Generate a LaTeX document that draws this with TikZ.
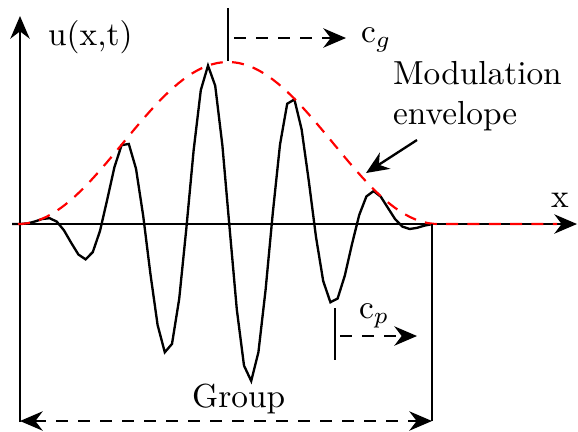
\documentclass[tikz,border=0pt]{standalone}
\usetikzlibrary{arrows.meta}
\begin{document}
\begin{tikzpicture}[x=0.3pt,y=-0.3pt,line width=0.7pt,
  tipa/.style={-{Stealth[length=6.8pt,width=5.8pt,inset=2.2pt]}},
  tipb/.style={{Stealth[length=6.8pt,width=5.8pt,inset=2.2pt]}-{Stealth[length=6.8pt,width=5.8pt,inset=2.2pt]}},
  dsh/.style={dash pattern=on 3.5pt off 3.1pt},
  rdsh/.style={red,line width=0.65pt,dash pattern=on 3.6pt off 2.8pt},
  lbl/.style={inner sep=0pt,anchor=base west}]
\useasboundingbox (0,0) rectangle (578,431);
% coordinates
\coordinate (yb) at (20,422);
\coordinate (yt) at (20,16);
\coordinate (xl) at (12,224);
\coordinate (xr) at (577,224);
\coordinate (gt) at (228,8);
\coordinate (gb) at (228,61);
\coordinate (ga) at (234,38);
\coordinate (gz) at (346,38);
\coordinate (pt) at (335,308);
\coordinate (pb) at (335,360);
\coordinate (pa) at (340,336);
\coordinate (pz) at (417,336);
\coordinate (rt) at (432,224);
\coordinate (rb) at (432,421);
\coordinate (bl) at (20,421);
\coordinate (br) at (432,421);
\coordinate (ms) at (417,140);
\coordinate (me) at (366,173);
\coordinate (es) at (438,224);
\coordinate (ee) at (557,224);
% axes
\draw[tipa] (yb) -- (yt);
\draw[tipa] (xl) -- (xr);
% wave
\draw (xl) -- (20.8,224) -- plot[domain=20.8:431.2,samples=58]
  (\x,{224-81*(1+cos(0.857143*(\x-228)))*cos(4.235294*(\x-208))});
% envelope
\draw[rdsh] plot[domain=18:438,samples=90]
  (\x,{224-81*(1+cos(0.857143*(\x-228)))}) -- (es) -- (ee);
% group velocity
\draw (gt) -- (gb);
\draw[tipa,dsh] (ga) -- (gz);
\node[lbl] (cg) at (360,42) {c$_g$};
% phase velocity
\draw (pt) -- (pb);
\draw[tipa,dsh] (pa) -- (pz);
\node[lbl] (cp) at (358,318) {c$_p$};
% group extent
\draw (rt) -- (rb);
\draw[tipb,dsh] (bl) -- (br);
\node[lbl] (grp) at (191,407) {Group};
% labels
\node[lbl] (u) at (47,45) {u(x,t)};
\node[lbl] (xx) at (550,207) {x};
\node[inner sep=0pt,anchor=north west,align=left] (mod) at (392,60) {Modulation\\envelope};
\draw[tipa] (ms) -- (me);
\end{tikzpicture}
\end{document}
